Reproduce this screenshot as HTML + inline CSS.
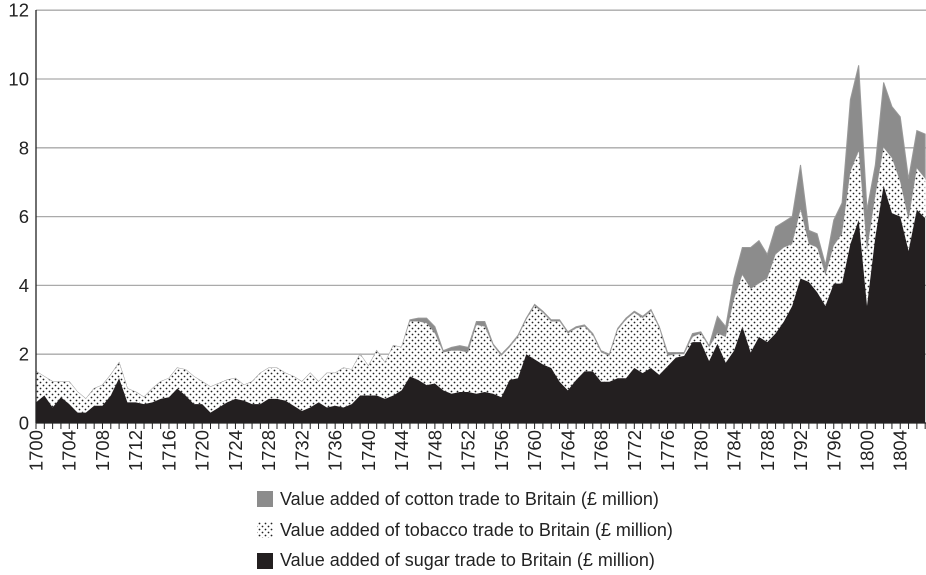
<!DOCTYPE html>
<html><head><meta charset="utf-8"><style>
body{margin:0;background:#fff;font-family:"Liberation Sans",Arial,sans-serif;overflow:hidden}
svg text{font-family:"Liberation Sans",Arial,sans-serif;fill:#222}
</style></head><body>
<svg id="chart" width="926" height="570" xmlns="http://www.w3.org/2000/svg">
<defs><pattern id="dots" width="6" height="6" patternUnits="userSpaceOnUse"><rect width="6" height="6" fill="#fff"/><circle cx="1.5" cy="1.5" r="0.9" fill="#222"/><circle cx="4.5" cy="4.5" r="0.9" fill="#222"/></pattern></defs>
<g id="grid"></g><g id="areas"></g><g id="axes"></g>
<g>
<g><rect x="257" y="491" width="16" height="16" fill="#8c8c8c"/><text x="280" y="505" font-size="18">Value added of cotton trade to Britain (£ million)</text></g>
<g><rect x="257" y="522" width="16" height="16" fill="url(#dots)"/><text x="280" y="536" font-size="18">Value added of tobacco trade to Britain (£ million)</text></g>
<g><rect x="257" y="553" width="16" height="16" fill="#231f20"/><text x="280" y="566" font-size="18">Value added of sugar trade to Britain (£ million)</text></g>
</g>
</svg>
<script>
const startYear = 1700;
const sugar = [0.6,0.8,0.45,0.75,0.55,0.3,0.3,0.5,0.5,0.8,1.3,0.6,0.6,0.55,0.6,0.7,0.75,1.0,0.8,0.55,0.55,0.3,0.45,0.6,0.7,0.65,0.55,0.55,0.7,0.7,0.65,0.5,0.35,0.45,0.6,0.45,0.5,0.45,0.55,0.8,0.8,0.8,0.7,0.8,0.95,1.35,1.25,1.1,1.15,0.95,0.85,0.9,0.9,0.85,0.9,0.85,0.75,1.25,1.3,2.0,1.85,1.7,1.6,1.2,0.95,1.25,1.5,1.5,1.2,1.2,1.3,1.3,1.6,1.45,1.6,1.4,1.65,1.9,1.95,2.35,2.35,1.8,2.3,1.75,2.1,2.8,2.05,2.5,2.35,2.6,2.95,3.4,4.2,4.1,3.8,3.4,4.05,4.05,5.2,5.9,3.4,5.4,6.9,6.1,6.0,5.0,6.2,5.95];
const tobacco = [0.9,0.55,0.75,0.45,0.65,0.6,0.4,0.5,0.6,0.6,0.45,0.4,0.3,0.2,0.4,0.5,0.55,0.6,0.75,0.8,0.65,0.75,0.7,0.65,0.6,0.45,0.65,0.9,0.9,0.9,0.8,0.85,0.85,1.0,0.6,1.0,0.95,1.15,1.0,1.2,0.85,1.3,1.05,1.45,1.25,1.6,1.7,1.8,1.45,1.1,1.25,1.2,1.15,2.0,1.9,1.4,1.2,0.95,1.2,1.0,1.55,1.5,1.35,1.75,1.65,1.5,1.3,1.05,0.85,0.75,1.4,1.7,1.6,1.6,1.65,1.35,0.3,0.1,0.05,0.15,0.25,0.4,0.3,0.75,1.5,1.5,1.85,1.55,1.85,2.3,2.15,1.8,2.0,1.1,1.3,0.9,1.1,1.45,2.1,2.0,1.6,1.2,1.1,1.6,1.0,0.9,1.2,1.15];
const cotton = [0,0,0,0,0,0,0,0,0,0,0,0,0,0,0,0,0,0,0,0,0,0,0,0,0,0,0,0,0,0,0,0,0,0,0,0,0,0,0,0,0,0,0,0,0,0.05,0.1,0.15,0.2,0.05,0.1,0.15,0.15,0.1,0.15,0.05,0.05,0.05,0.05,0.05,0.05,0.05,0.05,0.05,0.05,0.05,0.05,0.05,0.05,0.05,0.05,0.05,0.05,0.05,0.05,0.05,0.1,0.05,0.05,0.1,0.05,0.05,0.5,0.3,0.6,0.8,1.2,1.25,0.7,0.8,0.75,0.8,1.3,0.4,0.4,0.3,0.75,0.9,2.1,2.5,1.2,0.9,1.9,1.5,1.9,1.2,1.1,1.3];
const yTicks = [0,2,4,6,8,10,12];
const xTickYears = [1700,1704,1708,1712,1716,1720,1724,1728,1732,1736,1740,1744,1748,1752,1756,1760,1764,1768,1772,1776,1780,1784,1788,1792,1796,1800,1804];

const NS="http://www.w3.org/2000/svg";
const x0=36, pxYear=8.31, yBase=423, pxUnit=34.4;
const X = yr => x0 + (yr-startYear)*pxYear;
const Y = v => yBase - v*pxUnit;
function mk(tag, attrs, parent){const e=document.createElementNS(NS,tag);for(const k in attrs)e.setAttribute(k,attrs[k]);parent.appendChild(e);return e;}
const grid=document.getElementById('grid'), areas=document.getElementById('areas'), axes=document.getElementById('axes');
yTicks.forEach(t=>{
  if(t>0){const l=mk('line',{x1:x0,x2:926,y1:Y(t),y2:Y(t),stroke:'#aaa','stroke-width':1.3},grid);
  
  }
  const tx=mk('text',{x:29,y:Y(t)+6.5,'text-anchor':'end','font-size':18.5},axes);tx.textContent=t;
  
  
});
const n=sugar.length;
const s1=sugar, s2=sugar.map((v,i)=>v+tobacco[i]), s3=s2.map((v,i)=>v+cotton[i]);
function area(top,bot,fill,name,stroke){
  let d='M'+X(startYear)+','+Y(top[0]);
  for(let i=1;i<n;i++)d+='L'+X(startYear+i)+','+Y(top[i]);
  for(let i=n-1;i>=0;i--)d+='L'+X(startYear+i)+','+Y(bot?bot[i]:0);
  const p=mk('path',{d:d+'Z',fill:fill,stroke:stroke||'none','stroke-width':1},areas);
  
  
}
area(s3,s2,'#8c8c8c','cotton-area','#999');
area(s2,s1,'url(#dots)','tobacco-area');
area(s1,null,'#231f20','sugar-area');
mk('line',{x1:x0,x2:x0,y1:10,y2:yBase,stroke:'#222','stroke-width':1.3},axes);
mk('line',{x1:x0,x2:926,y1:yBase,y2:yBase,stroke:'#222','stroke-width':1.3},axes);
for(let i=0;i<n;i++){mk('line',{x1:X(startYear+i),x2:X(startYear+i),y1:yBase,y2:yBase+6,stroke:'#222','stroke-width':1},axes);}
xTickYears.forEach(yr=>{
  const t=mk('text',{x:0,y:0,'text-anchor':'end','font-size':18.5,transform:`translate(${X(yr)+6.5},430) rotate(-90)`},axes);
  t.textContent=yr;
  
  
});
</script>
</body></html>
